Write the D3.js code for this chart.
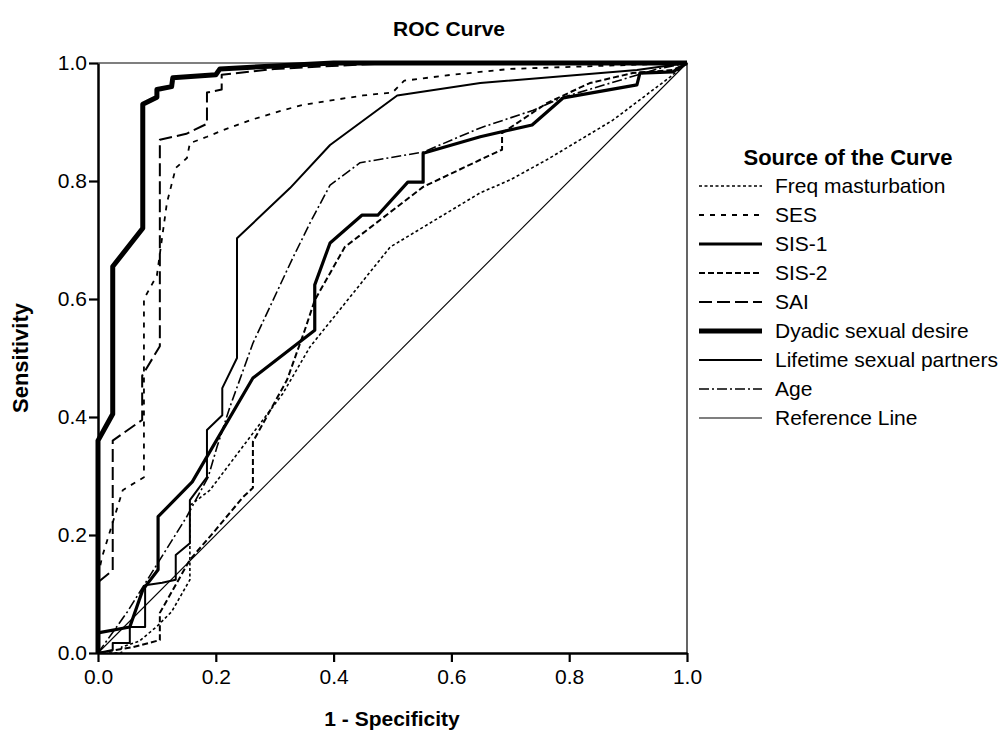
<!DOCTYPE html>
<html>
<head>
<meta charset="utf-8">
<script src="https://cdn.jsdelivr.net/npm/d3@7"></script>
<style>
  body { margin: 0; background: #fff; }
  text { font-family: 'Liberation Sans', Arial, sans-serif; fill: #000; }
</style>
</head>
<body>
<svg id="chart" width="1007" height="731"></svg>
<script>
// ROC points: [1 - specificity, sensitivity]
const freqMasturbation = [[0,0],[0.04,0],[0.04,0.01],[0.07,0.02],[0.1,0.045],[0.125,0.07],[0.156,0.124],[0.156,0.25],[0.19,0.276],[0.314,0.44],[0.36,0.519],[0.496,0.688],[0.649,0.78],[0.7,0.802],[0.762,0.836],[0.874,0.903],[0.971,0.976],[1,1]];
const ses = [[0,0],[0,0.13],[0.007,0.163],[0.042,0.276],[0.078,0.298],[0.078,0.6],[0.1,0.64],[0.117,0.763],[0.132,0.822],[0.151,0.839],[0.156,0.864],[0.185,0.875],[0.212,0.886],[0.258,0.903],[0.314,0.92],[0.348,0.929],[0.45,0.945],[0.5,0.95],[0.52,0.97],[0.6,0.98],[0.7,0.99],[1,1]];
const sis1 = [[0,0],[0,0.034],[0.054,0.044],[0.076,0.107],[0.102,0.141],[0.102,0.231],[0.16,0.29],[0.263,0.466],[0.368,0.547],[0.368,0.624],[0.394,0.695],[0.448,0.742],[0.475,0.742],[0.526,0.798],[0.552,0.798],[0.552,0.847],[0.649,0.875],[0.737,0.895],[0.79,0.941],[0.915,0.963],[0.92,0.983],[0.976,0.985],[1,1]];
const sis2 = [[0,0],[0.06,0.01],[0.105,0.022],[0.105,0.068],[0.156,0.158],[0.195,0.203],[0.246,0.264],[0.263,0.28],[0.263,0.358],[0.321,0.463],[0.351,0.547],[0.368,0.598],[0.419,0.688],[0.552,0.79],[0.649,0.836],[0.686,0.853],[0.686,0.881],[0.762,0.932],[0.835,0.966],[0.908,0.983],[0.976,0.988],[1,1]];
const sai = [[0,0],[0,0.12],[0.025,0.14],[0.025,0.36],[0.075,0.395],[0.075,0.47],[0.105,0.52],[0.105,0.87],[0.15,0.88],[0.185,0.897],[0.185,0.95],[0.21,0.955],[0.21,0.98],[0.3,0.99],[0.5,1],[1,1]];
const dyadic = [[0,0],[0,0.36],[0.025,0.405],[0.025,0.655],[0.076,0.72],[0.076,0.93],[0.1,0.942],[0.1,0.955],[0.125,0.96],[0.127,0.975],[0.2,0.98],[0.207,0.99],[0.3,0.995],[0.4,1],[1,1]];
const lifetime = [[0,0],[0.025,0.005],[0.025,0.017],[0.054,0.017],[0.054,0.044],[0.08,0.044],[0.08,0.115],[0.109,0.119],[0.132,0.124],[0.132,0.166],[0.156,0.186],[0.156,0.259],[0.185,0.298],[0.185,0.378],[0.211,0.403],[0.211,0.449],[0.236,0.5],[0.236,0.703],[0.326,0.788],[0.394,0.861],[0.508,0.945],[0.649,0.966],[0.915,0.988],[1,1]];
const age = [[0,0],[0.05,0.07],[0.1,0.15],[0.15,0.23],[0.187,0.298],[0.202,0.349],[0.224,0.417],[0.263,0.525],[0.329,0.666],[0.36,0.729],[0.394,0.793],[0.445,0.831],[0.552,0.849],[0.649,0.89],[0.739,0.92],[0.79,0.942],[0.95,0.99],[1,1]];
const reference = [[0,0],[1,1]];

const seriesNames = ['Freq masturbation','SES','SIS-1','SIS-2','SAI','Dyadic sexual desire','Lifetime sexual partners','Age','Reference Line'];
const seriesData = [freqMasturbation, ses, sis1, sis2, sai, dyadic, lifetime, age, reference];
const tickValues = [0, 0.2, 0.4, 0.6, 0.8, 1.0];

// line styles, same order as seriesNames
const styles = [
  { w: 1.6, dash: '3,2.5' },
  { w: 1.8, dash: '5,6' },
  { w: 3.2, dash: null },
  { w: 2, dash: '6,3' },
  { w: 2, dash: '13,5' },
  { w: 5, dash: null },
  { w: 2, dash: null },
  { w: 1.6, dash: '10,3,2,3' },
  { w: 1.1, dash: null }
];

const margins = { left: 98, right: 320, top: 63, bottom: 78 };

const vis = d3.select('#chart');
const xScale = d3.scaleLinear().domain([0, 1]).range([margins.left, 687]);
const yScale = d3.scaleLinear().domain([0, 1]).range([653, margins.top]);

//Title
vis.append('text')
  .attr('x', 449).attr('y', 36)
  .attr('text-anchor', 'middle')
  .style('font-size', '21px').style('font-weight', 'bold')
  .text('ROC Curve');

//Top and right border
vis.append('path')
  .attr('d', `M${xScale(0)},${yScale(1)}H${xScale(1)}V${yScale(0)}`)
  .attr('fill', 'none').attr('stroke', '#000').attr('stroke-width', 1.2);

//Curves
const lineGen = d3.line().x(d => xScale(d[0])).y(d => yScale(d[1]));
seriesData.forEach((data, i) => {
  vis.append('path')
    .attr('d', lineGen(data))
    .attr('fill', 'none')
    .attr('stroke', '#000')
    .attr('stroke-width', styles[i].w)
    .attr('stroke-dasharray', styles[i].dash)
    .attr('stroke-linejoin', 'round');
});

//Axes
const xAxis = d3.axisBottom(xScale).tickValues(tickValues).tickFormat(d3.format('.1f')).tickSize(9).tickSizeOuter(0).tickPadding(7);
const yAxis = d3.axisLeft(yScale).tickValues(tickValues).tickFormat(d3.format('.1f')).tickSize(9).tickSizeOuter(0).tickPadding(2);

const gx = vis.append('g').attr('transform', 'translate(0,' + yScale(0) + ')').call(xAxis);
const gy = vis.append('g').attr('transform', 'translate(' + xScale(0) + ',0)').call(yAxis);
[gx, gy].forEach(g => {
  g.attr('font-size', 21).attr('font-family', "'Liberation Sans', Arial, sans-serif");
  g.select('.domain').attr('stroke-width', 2.5);
  g.selectAll('.tick line').attr('stroke-width', 2.2);
  g.selectAll('.tick text').attr('fill', '#000');
});

//Axis labels
vis.append('text')
  .attr('x', 392).attr('y', 726)
  .attr('text-anchor', 'middle')
  .style('font-size', '21px').style('font-weight', 'bold')
  .text('1 - Specificity');

vis.append('text')
  .attr('transform', 'translate(28,358) rotate(-90)')
  .attr('text-anchor', 'middle')
  .style('font-size', '22px').style('font-weight', 'bold')
  .text('Sensitivity');

//Legend
const legend = vis.append('g');
legend.append('text')
  .attr('x', 848).attr('y', 165)
  .attr('text-anchor', 'middle')
  .style('font-size', '22px').style('font-weight', 'bold')
  .text('Source of the Curve');

seriesNames.forEach((name, i) => {
  const y = 186 + i * 29;
  legend.append('line')
    .attr('x1', 699).attr('x2', 762)
    .attr('y1', y).attr('y2', y)
    .attr('stroke', '#000')
    .attr('stroke-width', styles[i].w)
    .attr('stroke-dasharray', styles[i].dash);
  legend.append('text')
    .attr('x', 775).attr('y', y + 7)
    .style('font-size', '21px')
    .text(name);
});
</script>
</body>
</html>
